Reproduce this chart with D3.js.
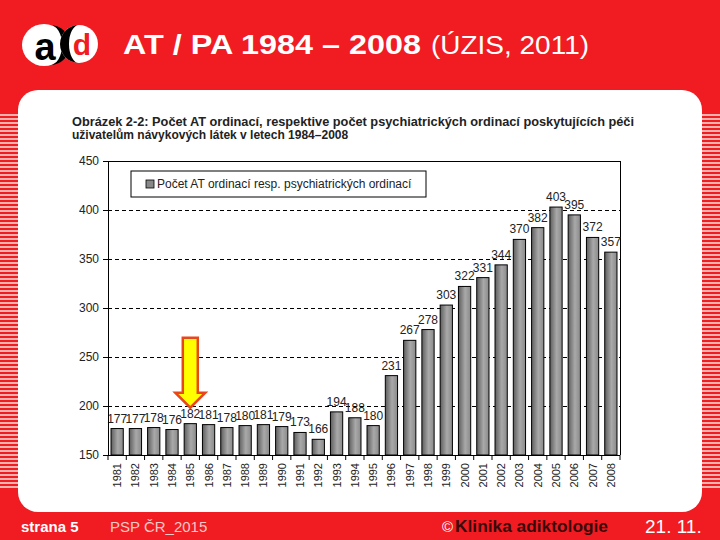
<!DOCTYPE html>
<html><head><meta charset="utf-8">
<script src="https://cdn.jsdelivr.net/npm/d3@7/dist/d3.min.js"></script>
<style>html,body{margin:0;padding:0;background:#f11b22;}svg{display:block;}</style>
</head><body>
<svg id="c" width="720" height="540"></svg>
<script>
const years = ["1981","1982","1983","1984","1985","1986","1987","1988","1989","1990","1991","1992","1993","1994","1995","1996","1997","1998","1999","2000","2001","2002","2003","2004","2005","2006","2007","2008"];
const counts = [177,177,178,176,182,181,178,180,181,179,173,166,194,188,180,231,267,278,303,322,331,344,370,382,403,395,372,357];
const yTicks = [150,200,250,300,350,400,450];
const highlightYear = "1985";
const slideTitle = "AT / PA 1984 – 2008";
const slideSource = "(ÚZIS, 2011)";
const figTitle1 = "Obrázek 2-2: Počet AT ordinací, respektive počet psychiatrických ordinací poskytujících péči";
const figTitle2 = "uživatelům návykových látek v letech 1984–2008";
const legendLabel = "Počet AT ordinací resp. psychiatrických ordinací";

const svg = d3.select("#c");
const RED = "#f11b22";
const defs = svg.append("defs");

const pat = defs.append("pattern").attr("id","stripes").attr("patternUnits","userSpaceOnUse")
  .attr("width",18).attr("height",4);
pat.append("rect").attr("width",18).attr("height",4).attr("fill",RED);
pat.append("rect").attr("y",2).attr("width",18).attr("height",2).attr("fill","#f8b3b0");

const grad = defs.append("linearGradient").attr("id","barg").attr("x1","0").attr("x2","1").attr("y1","0").attr("y2","0");
grad.append("stop").attr("offset","0%").attr("stop-color","#5e5e5e");
grad.append("stop").attr("offset","55%").attr("stop-color","#a9a9a9");
grad.append("stop").attr("offset","100%").attr("stop-color","#8a8a8a");

svg.append("rect").attr("width",720).attr("height",540).attr("fill",RED);
svg.append("rect").attr("x",0).attr("y",112).attr("width",18).attr("height",378).attr("fill","url(#stripes)");
svg.append("rect").attr("x",702).attr("y",112).attr("width",18).attr("height",378).attr("fill","url(#stripes)");
svg.append("rect").attr("x",18).attr("y",90).attr("width",684).attr("height",422).attr("rx",20).attr("fill","#fff");

// logo
const logo = svg.append("g");
logo.append("ellipse").attr("cx",44).attr("cy",45).attr("rx",22).attr("ry",21).attr("fill","#fff");
logo.append("path").attr("d","M50,25 A20,20 0 0 1 50,65 A12,20 0 0 0 50,25 Z").attr("fill","#000");
logo.append("text").attr("x",45).attr("y",60).attr("text-anchor","middle").attr("font-family","Liberation Sans, Arial").attr("font-weight","bold").attr("font-size",38).attr("fill","#000").text("a");
logo.append("circle").attr("cx",79).attr("cy",44).attr("r",19).attr("fill","#fff");
logo.append("path").attr("d","M79,25 A19,19 0 0 0 79,63 A10,19 0 0 1 79,25 Z").attr("fill","#000");
logo.append("text").attr("x",82).attr("y",55).attr("text-anchor","middle").attr("font-family","Liberation Sans, Arial").attr("font-weight","bold").attr("font-size",30).attr("fill",RED).text("d");

// slide title
svg.append("text").attr("x",123).attr("y",54).attr("font-family","Liberation Sans, Arial").attr("font-size",27).attr("font-weight","bold")
  .attr("fill","#fff").attr("textLength",298).attr("lengthAdjust","spacingAndGlyphs").text(slideTitle);
svg.append("text").attr("x",431).attr("y",54).attr("font-family","Liberation Sans, Arial").attr("font-size",26)
  .attr("fill","#fff").attr("textLength",158).attr("lengthAdjust","spacingAndGlyphs").text(slideSource);

// figure title
svg.append("text").attr("x",72).attr("y",126).attr("font-family","Liberation Sans, Arial").attr("font-weight","bold")
  .attr("font-size",12).attr("fill","#222").attr("textLength",562).attr("lengthAdjust","spacingAndGlyphs").text(figTitle1);
svg.append("text").attr("x",72).attr("y",139).attr("font-family","Liberation Sans, Arial").attr("font-weight","bold")
  .attr("font-size",12).attr("fill","#222").text(figTitle2);

// chart
const L=108,R=620,T=161,B=455;
const x = d3.scaleBand().domain(years).range([L,R]).paddingInner(0.33).paddingOuter(0.165);
const y = d3.scaleLinear().domain([150,450]).range([B,T]);
const xb = d3.scaleBand().domain(years).range([L,R]);

const g = svg.append("g").attr("font-family","Liberation Sans, Arial");
g.selectAll(".grid").data(yTicks.filter(v=>v>150 && v<450)).enter().append("line")
  .attr("x1",L).attr("x2",R).attr("y1",d=>y(d)).attr("y2",d=>y(d))
  .attr("stroke","#000").attr("stroke-width",1).attr("stroke-dasharray","4,3").attr("shape-rendering","crispEdges");
g.append("line").attr("x1",L).attr("x2",R).attr("y1",T).attr("y2",T).attr("stroke","#000").attr("shape-rendering","crispEdges");
g.append("line").attr("x1",R).attr("x2",R).attr("y1",T).attr("y2",B).attr("stroke","#000").attr("shape-rendering","crispEdges");

g.selectAll(".bar").data(years).enter().append("rect")
  .attr("x",d=>x(d)).attr("width",x.bandwidth())
  .attr("y",(d,i)=>y(counts[i])).attr("height",(d,i)=>B-y(counts[i]))
  .attr("fill","url(#barg)").attr("stroke","#000").attr("stroke-width",1);

g.selectAll(".val").data(years).enter().append("text")
  .attr("x",d=>x(d)+x.bandwidth()/2).attr("y",(d,i)=>y(counts[i])-6)
  .attr("text-anchor","middle").attr("font-size",12).attr("fill","#222")
  .text((d,i)=>counts[i]);

const ya = d3.axisLeft(y).tickValues(yTicks).tickSize(5).tickPadding(4);
const yg = g.append("g").attr("transform",`translate(${L},0)`).call(ya);
yg.selectAll("text").attr("font-size",12).attr("fill","#222").attr("font-family","Liberation Sans, Arial");
yg.select(".domain").attr("stroke","#000");

const xg = g.append("g").attr("transform",`translate(0,${B})`);
xg.append("line").attr("x1",L).attr("x2",R).attr("stroke","#000").attr("shape-rendering","crispEdges");
xg.selectAll(".tk").data(years.concat(["end"])).enter().append("line")
  .attr("x1",(d,i)=>L+i*xb.bandwidth()).attr("x2",(d,i)=>L+i*xb.bandwidth())
  .attr("y1",0).attr("y2",5).attr("stroke","#000");
xg.selectAll(".xl").data(years).enter().append("text")
  .attr("transform",d=>`translate(${xb(d)+xb.bandwidth()/2+4},8) rotate(-90)`)
  .attr("text-anchor","end").attr("font-size",11).attr("fill","#222").text(d=>d);

const lg = svg.append("g").attr("font-family","Liberation Sans, Arial");
lg.append("rect").attr("x",131).attr("y",171).attr("width",295).attr("height",26).attr("fill","#fff").attr("stroke","#000");
lg.append("rect").attr("x",146).attr("y",180).attr("width",8).attr("height",8).attr("fill","#888").attr("stroke","#000").attr("stroke-width",0.8);
lg.append("text").attr("x",157).attr("y",188).attr("font-size",12).attr("fill","#222").text(legendLabel);

// arrow annotation
const ax = xb(highlightYear)+xb.bandwidth()/2;
const tip = y(counts[years.indexOf(highlightYear)]) - 16;
svg.append("path")
  .attr("d",`M${ax-7.5},${tip-70} L${ax+7.5},${tip-70} L${ax+7.5},${tip-15} L${ax+15},${tip-15} L${ax},${tip} L${ax-15},${tip-15} L${ax-7.5},${tip-15} Z`)
  .attr("fill","#ffff00").attr("stroke","#e8471c").attr("stroke-width",2.5).attr("stroke-linejoin","miter");

// footer
const ft = svg.append("g").attr("font-family","Liberation Sans Narrow, Liberation Sans, Arial");
ft.append("text").attr("x",21).attr("y",532).attr("font-size",15).attr("font-weight","bold").attr("fill","#fff").text("strana 5");
ft.append("text").attr("x",110).attr("y",532).attr("font-size",15).attr("fill","#f6c9c6").text("PSP ČR_2015");
ft.append("text").attr("x",442).attr("y",532).attr("font-size",15).attr("fill","#fff").text("©");
ft.append("text").attr("x",455).attr("y",532).attr("font-size",16).attr("font-weight","bold").attr("fill","#3a0a0a")
  .attr("textLength",153).attr("lengthAdjust","spacingAndGlyphs").text("Klinika adiktologie");
ft.append("text").attr("x",645).attr("y",533).attr("font-size",19).attr("fill","#fff").text("21. 11.");
</script>
</body></html>
